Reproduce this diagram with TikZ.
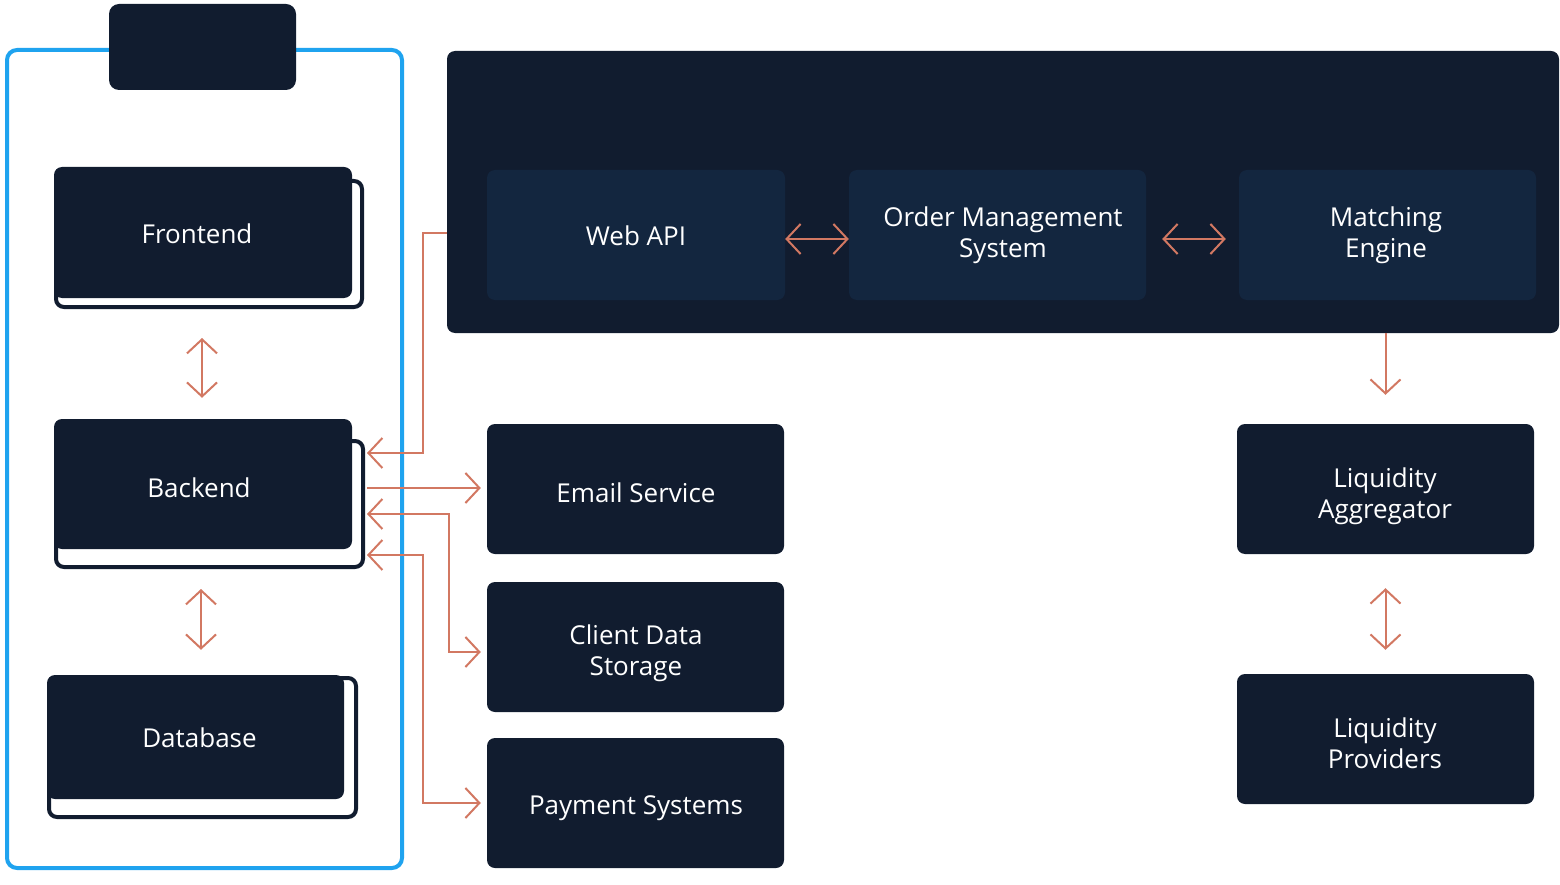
\documentclass[tikz,border=0pt]{standalone}
\usepackage{fontspec}
\setmainfont{Open Sans}
\usetikzlibrary{arrows.meta,calc}
\definecolor{navy}{HTML}{111C2F}
\definecolor{innerc}{HTML}{13263F}
\definecolor{blueb}{HTML}{1FA3EF}
\definecolor{arrc}{HTML}{D27862}
\begin{document}
\begin{tikzpicture}[x=1pt,y=-1pt, >={Straight Barb[length=14pt,width=30pt]},
 box/.style={fill=navy, rounded corners=8pt, minimum width=297pt, minimum height=130pt, inner sep=0pt},
 ibox/.style={box, fill=innerc},
 txt/.style={text=white, align=center, font=\fontsize{26}{31}\selectfont, inner sep=0pt},
 backbox/.style={draw=navy, line width=4pt, fill=white, rounded corners=8pt, inner sep=0pt},
 arr/.style={draw=arrc, line width=2pt}]
\useasboundingbox (0,0) rectangle (1560,885);
% left container
\draw[draw=blueb, line width=4pt, rounded corners=10pt] (7,50) rectangle (402,868);
\node[fill=navy, rounded corners=10pt, minimum width=187pt, minimum height=86pt, inner sep=0pt] (tab) at (202.5,47) {};
% stacked boxes
\node[backbox, minimum width=306pt, minimum height=126pt] (feback) at (209,244) {};
\node[box, minimum width=298pt, minimum height=131pt] (fe) at (203,232.5) {};
\node[backbox, minimum width=307pt, minimum height=126pt] (beback) at (209.5,504) {};
\node[box, minimum width=298pt, minimum height=130pt] (be) at (203,484) {};
\node[backbox, minimum width=307pt, minimum height=139pt] (dbback) at (202.5,747.5) {};
\node[box, minimum width=297pt, minimum height=124pt] (db) at (195.5,737) {};
% top panel
\node[fill=navy, rounded corners=8pt, minimum width=1112pt, minimum height=282pt, inner sep=0pt] (panel) at (1003,192) {};
\node[ibox, minimum width=298pt] (web) at (636,235) {};
\node[ibox] (oms) at (997.5,235) {};
\node[ibox] (me) at (1387.5,235) {};
% other boxes
\node[box] (email) at (635.5,489) {};
\node[box] (client) at (635.5,647) {};
\node[box] (pay) at (635.5,803) {};
\node[box] (la) at (1385.5,489) {};
\node[box] (lp) at (1385.5,739) {};
% texts
\node[txt] (fe-t) at (197,233.5) {Frontend};
\node[txt] (be-t) at (199,488) {Backend};
\node[txt] (db-t) at (199.5,738) {Database};
\node[txt] (web-t) at (636,236) {Web API};
\node[txt] (oms-t) at (1003,235) {Order Management\\System};
\node[txt] (me-t) at (1386,235) {Matching\\Engine};
\node[txt] (email-t) at (636,493) {Email Service};
\node[txt] (client-t) at (636,653) {Client Data\\Storage};
\node[txt] (pay-t) at (636,808) {Payment Systems};
\node[txt] (la-t) at (1385,496) {Liquidity\\Aggregator};
\node[txt] (lp-t) at (1385,743) {Liquidity\\Providers};
% connectors
\draw[arr,<->] ([yshift=-4pt]web.east) -- ([yshift=-4pt]oms.west);
\draw[arr,<->,shorten <=16pt,shorten >=13pt] ([yshift=-4pt]oms.east) -- ([yshift=-4pt]me.west);
\draw[arr,->,shorten >=29pt] (la.north |- panel.south) -- (la.north);
\draw[arr,<->,shorten <=34pt,shorten >=24pt] (la.south) -- (lp.north);
\draw[arr,<->,shorten <=29pt,shorten >=21pt] (feback.south -| 202,0) -- (be.north -| 202,0);
\draw[arr,<->,shorten <=20pt,shorten >=25pt] (beback.south -| 201,0) -- (db.north -| 201,0);
\draw[arr,->] (panel.west |- 0,233) -- (423,233) |- ([xshift=2pt]beback.east |- 0,453);
\draw[arr,->,shorten >=6pt] ([xshift=2pt]beback.east |- 0,488) -- (email.west |- 0,488);
\draw[arr,<->,shorten >=6pt] ([xshift=2pt]beback.east |- 0,514) -| (449,652) -- (client.west |- 0,652);
\draw[arr,<->,shorten >=6pt] ([xshift=2pt]beback.east |- 0,555) -| (423,803) -- (pay.west |- 0,803);
\end{tikzpicture}
\end{document}
